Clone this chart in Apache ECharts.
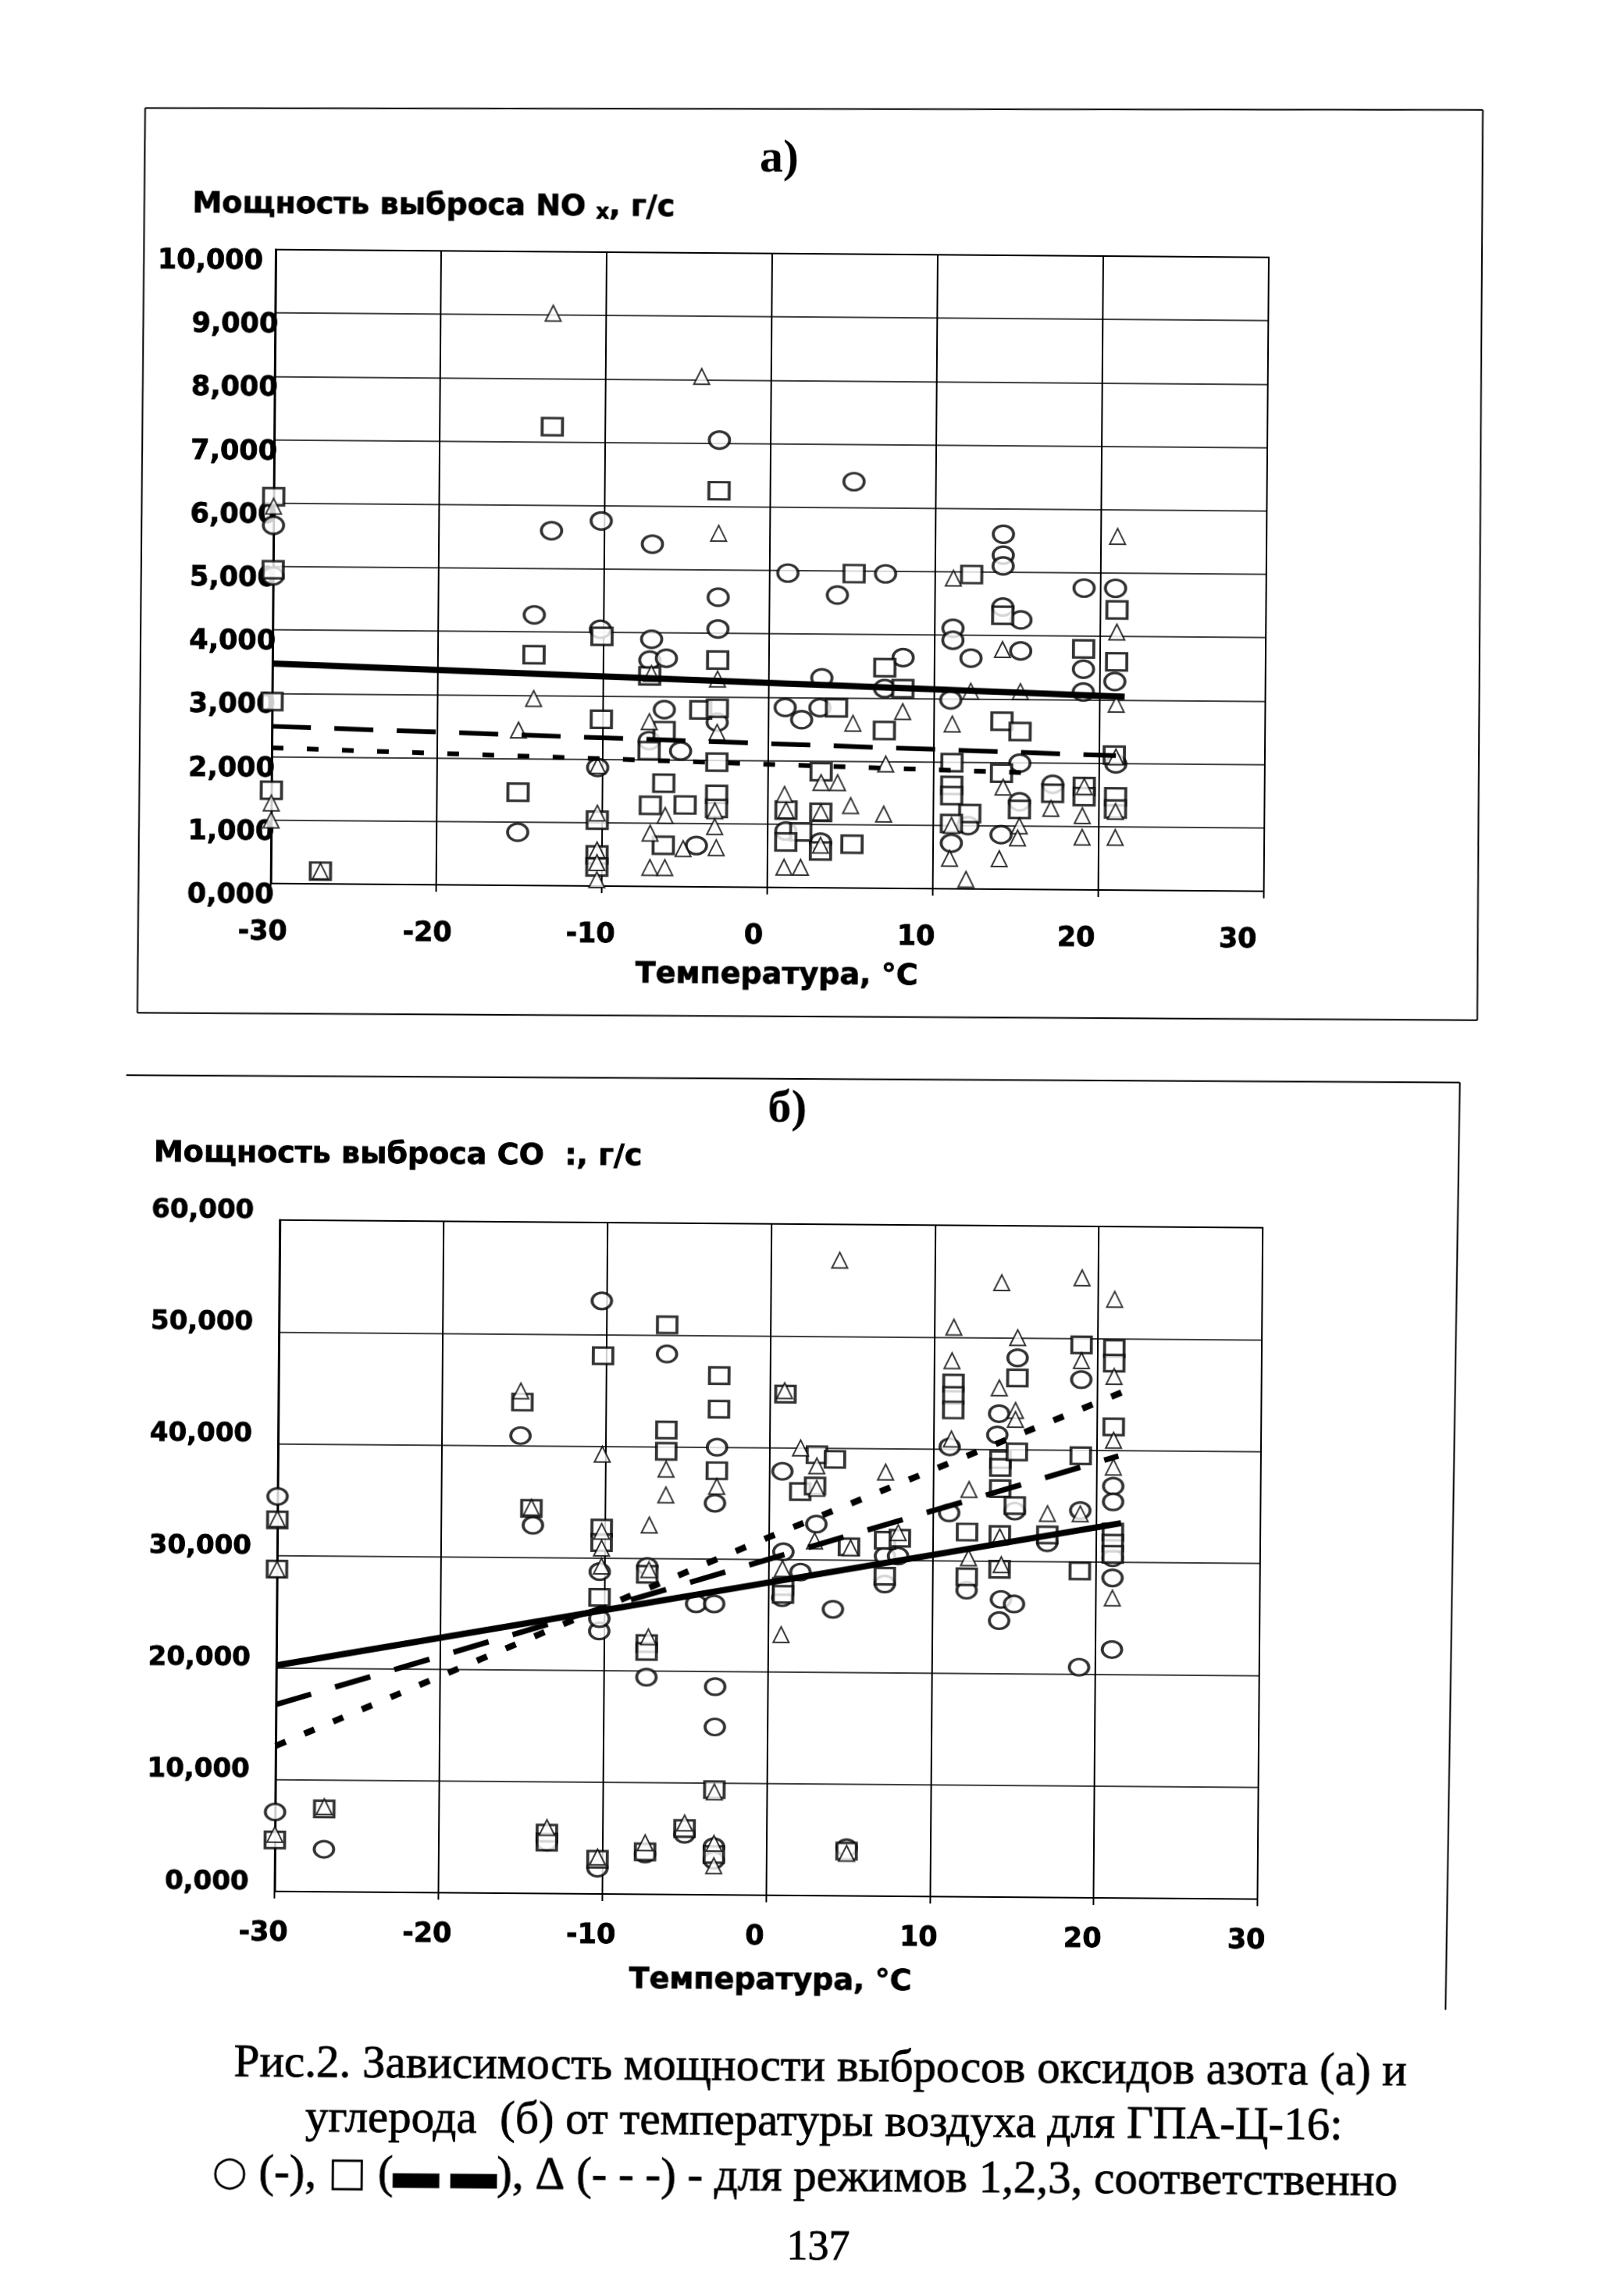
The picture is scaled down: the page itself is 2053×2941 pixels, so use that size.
<!DOCTYPE html>
<html><head><meta charset="utf-8">
<style>html,body{margin:0;padding:0;background:#fff;overflow:hidden}#c{width:2053px;height:2941px;transform:rotate(.45deg);transform-origin:1026px 1470px}</style>
<script src="https://cdn.jsdelivr.net/npm/echarts@6/dist/echarts.min.js"></script>
</head><body><div id="c"></div>
<script>
const xTicks=[-30,-20,-10,0,10,20,30];
const aCircles=[[-30,5.65],[-30,4.85],[-13.2,5.6],[-10.2,5.76],[-14.2,4.27],[-15.1,.84],[-7.1,5.4],[-3.1,7.05],[-3.1,4.57],[-3.1,4.07],[-7.1,3.9],[-7.2,3.57],[-6.2,3.6],[-6.3,2.79],[-10.2,4.05],[-5.3,2.14],[-7.2,2.3],[-10.3,1.87],[-4.3,.65],[-3.1,2.6],
[5.05,6.41],[14.1,5.6],[14.1,5.27],[14.1,5.1],[1.1,4.96],[7,4.96],[4.1,4.62],[19,4.76],[20.9,4.76],[14.1,4.45],[15.2,4.25],[11.1,4.11],[11.1,3.92],[12.2,3.64],[15.2,3.76],[8.1,3.64],[3.2,3.31],[19,3.48],[19,3.12],[20.9,3.29],[7,3.15],[11,2.98],[1,2.84],[2,2.65],[3.1,2.84],[15.2,1.99],[11.1,.72],[14.1,.86],[1.1,.89],[3.2,.72],[12.1,1],[21,1.99],[17.2,1.66],[15.2,1.38]];
const aSquares=[[-30,6.1],[-30,4.95],[-30,2.87],[-30,1.47],[-27,.2],[-13.2,7.24],[-14.2,3.64],[-15.1,1.47],[-10.1,3.94],[-10.1,2.63],[-10.3,1.04],[-10.3,.49],[-10.3,.3],[-3.1,6.25],[-3.1,3.58],[-7.2,3.32],[-6.3,2.46],[-7.2,2.14],[-6.3,1.63],[-7.1,1.28],[-5,1.29],[-6.3,.65],[-4.1,2.79],[-3.1,2.82],[-3.1,1.97],[-3.1,1.46],[-3.1,1.24],
[5.1,4.96],[12.2,4.96],[14.1,4.32],[21,4.42],[19,3.8],[21,3.6],[7,3.48],[8.1,3.15],[4.1,2.84],[14.1,2.65],[15.2,2.49],[7,2.49],[11.1,1.99],[20.9,2.13],[3.2,1.83],[14.1,1.83],[11.1,1.63],[11.1,1.47],[12.2,1.19],[17.2,1.52],[19.1,1.63],[19.1,1.47],[21,1.47],[21,1.28],[1.1,1.22],[3.2,1.19],[15.2,1.26],[2,.88],[1.1,.72],[3.2,.58],[5.1,.69],[11.1,1.03]];
const aTriangles=[[-13.2,9.03],[-4.2,8.05],[-3.1,5.58],[-30,5.95],[-30,1.27],[-30,1],[-27,.2],[-14.2,2.95],[-15.1,2.45],[-10.3,1.9],[-10.3,1.15],[-10.3,.57],[-10.3,.37],[-10.3,.1],[-7.1,3.36],[-7.2,2.6],[-3.1,3.28],[-3.1,2.44],[-6.2,1.12],[-7.1,.84],[-7.1,.3],[-6.2,.3],[-5.1,.6],[-3.1,.62],[-3.2,1.2],[-3.2,.95],
[21,5.58],[11.1,4.9],[21,4.07],[14.1,3.78],[12.2,3.12],[15.2,3.12],[21,2.93],[8.1,2.79],[5.1,2.6],[11.1,2.6],[7.1,1.96],[3.2,1.66],[4.2,1.66],[14.2,1.61],[1,1.47],[21,1.24],[17.1,1.28],[19,1.17],[1.1,1.22],[3.2,1.19],[5,1.3],[7,1.17],[11.1,1],[15.2,1],[15.1,.81],[19,.83],[21,.83],[14,.48],[11,.48],[1,.32],[2,.32],[12,.15],[3.2,.67],[19.1,1.63],[21,2.1]];
const aTrendSolid=[[-30,3.47],[21.5,3.05]];
const aTrendDash=[[-30,2.48],[21,2.12]];
const aTrendDot=[[-30,2.14],[15.5,1.84]];
const bCircles=[[-30,35.3],[-30,7.1],[-27,3.8],[-15.2,40.9],[-14.4,32.9],[-10.3,53],[-10.3,23.5],[-10.3,24.6],[-10.3,28.8],[-6.3,48.3],[-3.2,40],[-3.3,35],[-4.4,26],[-3.3,26],[-7.4,19.4],[-3.2,18.6],[-3.2,15],[-13.4,4.6],[-7.4,3.6],[-10.3,2.3],[-5,5.4],[-3.2,4.3],[-3.2,3.1],[-7.4,29.3],
[.8,37.9],[.9,30.7],[1.95,28.9],[.85,26.6],[2.9,33.2],[3.95,25.6],[7.1,30.4],[7.9,30.4],[7.1,27.9],[11,34.3],[12.1,27.4],[14,43.2],[13.9,41.3],[15.1,48.2],[14.2,26.6],[15,26.2],[14.1,24.7],[15,34.5],[17,31.7],[19,46.3],[19,34.6],[19,20.6],[21,36.8],[21,35.4],[21,28.6],[21,22.2],[11,40.2],[21,30.4],[4.9,4.3]];
const bSquares=[[-15.1,43.9],[-10.2,48.1],[-6.3,50.9],[-3.1,46.4],[-3.1,43.4],[-6.3,41.5],[-6.3,39.6],[-3.2,37.9],[-14.5,34.4],[-10.2,32.7],[-10.2,31.4],[-7.4,28.6],[-10.3,26.5],[-30,33.2],[-30,28.8],[-7.4,22.4],[-7.4,21.7],[-30,4.6],[-27,7.4],[-13.4,5.4],[-13.4,4.6],[-3.2,9.4],[-3.2,3.6],[-10.3,3.1],[-7.4,3.8],[-5,5.9],
[.95,44.8],[2.9,39.4],[4,39],[1.9,36.1],[2.8,36.6],[4.9,31.2],[7.1,31.8],[8,32],[7.1,28.6],[.9,27.6],[.9,26.9],[11.2,45.9],[11.2,44.8],[11.2,43.5],[14.1,39.1],[14.1,38.4],[14.1,36.5],[15.1,46.4],[15.1,39.8],[15,35],[12.1,32.6],[12.1,28.6],[14.1,32.4],[14.1,29.3],[17,32.4],[19,49.4],[19,39.5],[19,29.2],[21,49.1],[21,47.8],[21,42.1],[21,32.7],[21,31.7],[21,30.7],[4.9,4]];
const bTriangles=[[-15.2,44.9],[-10.2,39.3],[-6.3,38],[-6.3,35.7],[-3.2,36.5],[-14.5,34.5],[-30,33.3],[-10.2,32.4],[-10.2,30.9],[-10.2,29.3],[-7.3,33],[-7.3,29],[-7.3,23],[-30,28.8],[-30,5.1],[-27,7.6],[-13.4,5.9],[-7.4,4.6],[-10.3,3.3],[-5,6.4],[-3.2,9.2],[-3.2,4.6],[-3.2,2.6],
[4.2,56.8],[1.9,40],[.9,45.1],[.8,23.3],[2.9,38.4],[2.9,36.4],[2.8,31.7],[7.1,37.9],[7.9,32.5],[5,31.1],[.85,29.2],[11.2,50.9],[11.1,47.9],[11.1,40.9],[12.2,36.4],[12.2,30.3],[14.1,54.9],[14,45.5],[15.1,50],[15,43.5],[15,42.7],[14.2,29.7],[14.1,32.2],[17,34.3],[19,55.4],[19,48],[19,34.3],[21,53.5],[21,46.6],[21,40.9],[21,38.5],[21,26.8],[4.9,3.8]];
const bTrendSolid=[[-30,20.2],[21.5,33.5]];
const bTrendDash=[[-30,16.7],[21.3,39.5]];
const bTrendDot=[[-30,13],[0,32],[21.5,45.2]];

const INK='#000';
const BOLD='"DejaVu Sans"';
const fmtComma=v=>v.toFixed(3).replace('.',',');
const LBL={fontFamily:BOLD,fontWeight:'bold',fontSize:35,color:INK,textBorderColor:INK,textBorderWidth:.8};
const aXoff={'-30':10,'-20':11,'-10':14,'0':17,'10':21,'20':28,'30':33};
const aRich={ten:{...LBL,padding:[32,20,0,0]},n:{...LBL,padding:[32,0,0,0]}};
const aXRich={};xTicks.forEach((t,i)=>aXRich['k'+i]={...LBL,padding:[0,aXoff[t]*2,0,0]});

function xAxisOf(gi,isA){return {gridIndex:gi,type:'value',min:-30,max:30,interval:10,
  axisLine:{show:true,onZero:false,lineStyle:{color:INK,width:2}},
  axisTick:{show:true,length:9,inside:false,lineStyle:{color:INK,width:2}},
  splitLine:{show:true,lineStyle:{color:INK,width:2}},
  axisLabel:isA?{margin:45,formatter:v=>`{k${xTicks.indexOf(v)}|${v}}`,rich:aXRich}
               :{...LBL,margin:36,padding:[0,28,0,0]}};}
function yAxisOf(gi,isA,max,iv){return {gridIndex:gi,type:'value',min:0,max,interval:iv,
  axisLine:{show:true,onZero:false,lineStyle:{color:INK,width:3}},axisTick:{show:false},
  splitLine:{show:true,lineStyle:{color:INK,width:1.5}},
  axisLabel:isA?{margin:-4,formatter:v=>v===10?`{ten|${fmtComma(v)}}`:`{n|${fmtComma(v)}}`,rich:aRich}
               :{...LBL,fontSize:34,lineHeight:22,margin:33,verticalAlign:'bottom',formatter:fmtComma}};}
function scatter(gi,data,symbol,size,bw){return {type:'scatter',xAxisIndex:gi,yAxisIndex:gi,data,symbol,symbolSize:size,silent:true,z:3,
  itemStyle:{color:'#fff',borderColor:INK,borderWidth:bw}};}
function trend(gi,data,width,dash){return {type:'line',xAxisIndex:gi,yAxisIndex:gi,data,symbol:'none',silent:true,z:5,
  lineStyle:{color:INK,width,type:dash||'solid',cap:'butt'}};}
function txt(text,x,y,font,align,sw,rich){return {type:'text',x,y,silent:true,z:10,style:{text,x:0,y:0,font,fill:INK,stroke:sw?INK:null,lineWidth:sw||0,textAlign:align||'center',textVerticalAlign:'middle',rich}};}
function ln(x1,y1,x2,y2,w){return {type:'line',silent:true,z:1,shape:{x1,y1,x2,y2},style:{stroke:INK,lineWidth:w||2}};}

const titleFont='bold 38px "DejaVu Sans"';
const serifB='bold 60px "Liberation Serif"';
const capFont='59px "Liberation Serif"';
const titleRich={a:{fontFamily:BOLD,fontWeight:'bold',fontSize:38,fill:INK,stroke:INK,lineWidth:.8},
                 s:{fontFamily:BOLD,fontWeight:'bold',fontSize:26,fill:INK,stroke:INK,lineWidth:.8,verticalAlign:'bottom',padding:[14,0,0,0]}};
const capRich={c:{fontFamily:'"Liberation Serif"',fontSize:59,fill:INK,stroke:INK,lineWidth:.8},
               big:{fontFamily:'"DejaVu Sans"',fontSize:52,fill:INK}};

const chart=echarts.init(document.getElementById('c'));
chart.setOption({
  backgroundColor:'#fff',animation:false,
  grid:[{left:344,top:325,width:1272,height:812,show:true,borderColor:INK,borderWidth:2,containLabel:false},
        {left:359,top:1568,width:1259,height:860,show:true,borderColor:INK,borderWidth:2,containLabel:false}],
  xAxis:[xAxisOf(0,true),xAxisOf(1,false)],
  yAxis:[yAxisOf(0,true,10,1),yAxisOf(1,false,60,10)],
  series:[
    scatter(0,aCircles,'circle',[26,22],3.5),
    scatter(0,aSquares,'rect',[26,22],3.5),
    scatter(0,aTriangles,'triangle',[20,20],2),
    trend(0,aTrendSolid,8),
    trend(0,aTrendDash,6,[50,30]),
    trend(0,aTrendDot,6,[15,30]),
    scatter(1,bCircles,'circle',[25,21],3.5),
    scatter(1,bSquares,'rect',[25,21],3.5),
    scatter(1,bTriangles,'triangle',[20,20],2),
    trend(1,bTrendSolid,8),
    trend(1,bTrendDash,7,[47,32]),
    trend(1,bTrendDot,8,[14,26])
  ],
  graphic:[
    ln(175.5,145,1888.6,134),ln(1888.6,134,1890.7,1300),ln(1890.7,1300,174.6,1304),ln(174.6,1304,175.5,145),
    ln(161,1384,1869,1380),ln(1869,1380,1860,2568),
    txt('а)',988,204,serifB),
    txt('б)',1008,1421,serifB),
    txt('{a|Мощность выброса NO }{s|x}{a|, г/с}',237,268,titleFont,'left',0,titleRich),
    txt('Мощность выброса СО  :, г/с',197,1484,titleFont,'left',.8),
    txt('Температура, °С',993,1250,titleFont,'center',.8),
    txt('Температура, °С',995,2538,titleFont,'center',.8),
    txt('Рис.2. Зависимость мощности выбросов оксидов азота (а) и',1060,2649,capFont,'center',.8),
    txt('углерода  (б) от температуры воздуха для ГПА-Ц-16:',1065,2719,capFont,'center',.8),
    txt('{big|○}{c| (-), }{big|□}{c| (▬ ▬), Δ (- - -) - для режимов 1,2,3, соответственно}',1041,2790,capFont,'center',0,capRich),
    txt('137',1059,2880,'54px "Liberation Serif"','center',.8)
  ]
});
</script></body></html>
